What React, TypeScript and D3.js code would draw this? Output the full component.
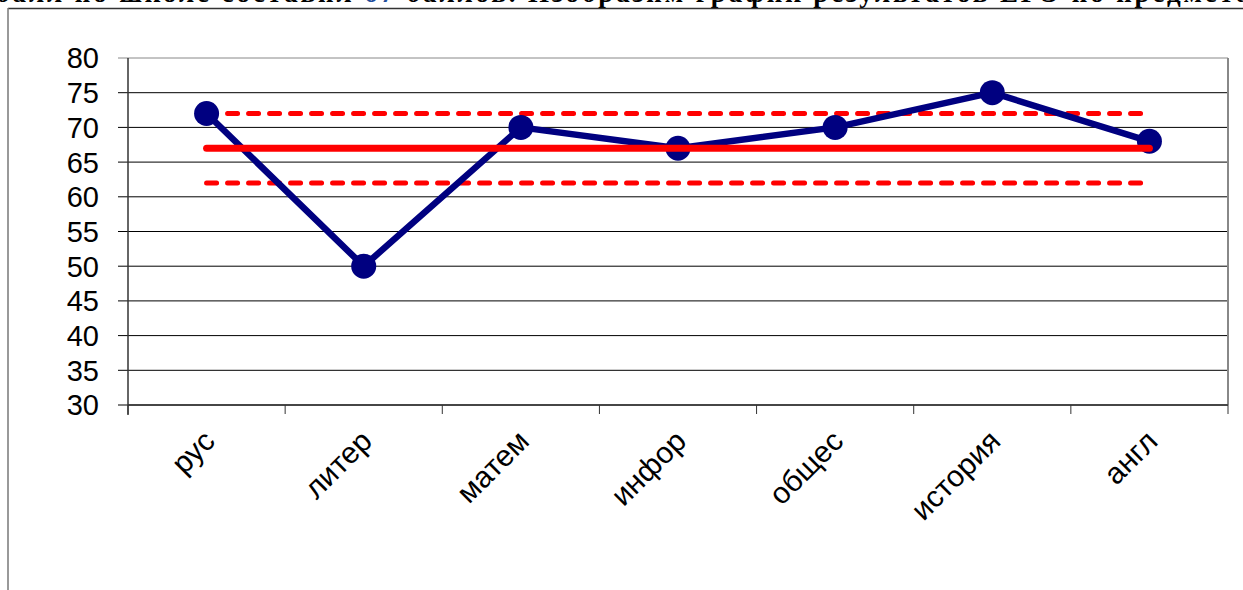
import * as d3 from 'd3'

const subjects = ['рус', 'литер', 'матем', 'инфор', 'общес', 'история', 'англ']
const scores = [72, 50, 70, 67, 70, 75, 68]
const schoolMean = 67
const bandUpper = 72
const bandLower = 62
const yTicks = [30, 35, 40, 45, 50, 55, 60, 65, 70, 75, 80]

export default function App() {
  const W = 1243
  const H = 590
  const plot = { left: 128, right: 1228, top: 58, bottom: 405 }

  const x = d3.scaleBand<string>().domain(subjects).range([plot.left, plot.right])
  const y = d3.scaleLinear().domain([30, 80]).range([plot.bottom, plot.top])
  const cx = (s: string) => (x(s) as number) + x.bandwidth() / 2

  const line = d3
    .line<number>()
    .x((_, i) => cx(subjects[i]))
    .y((d) => y(d))

  const first = cx(subjects[0])
  const last = cx(subjects[subjects.length - 1])

  return (
    <svg width={W} height={H} style={{ position: 'absolute', left: 0, top: 0, background: '#fff' }}>
      {/* heading cut off at top of the page */}
      <text x={-4} y={2} fontFamily="'Liberation Serif', serif" fontWeight="bold" fontSize={27} fill="#000" textLength={1275}>
        балл по школе составил <tspan fill="#1f4e9c">67</tspan> баллов. Изобразим график результатов ЕГЭ по предметам
      </text>

      {/* chart frame */}
      <line x1={8} x2={W} y1={8.5} y2={8.5} stroke="#333" strokeWidth={1.5} />
      <line x1={8} x2={8} y1={8} y2={H} stroke="#777" strokeWidth={1.5} />

      {/* gridlines */}
      {yTicks.map((t) => (
        <line key={t} x1={plot.left - 10} x2={plot.right} y1={y(t)} y2={y(t)} stroke={t === 80 ? '#888' : '#000'} strokeWidth={1} />
      ))}
      <line x1={plot.right} x2={plot.right} y1={plot.top} y2={plot.bottom} stroke="#888" strokeWidth={2} />
      <line x1={plot.left} x2={plot.left} y1={plot.top} y2={plot.bottom + 10} stroke="#333" strokeWidth={1.5} />
      <line x1={plot.left} x2={plot.right} y1={plot.bottom} y2={plot.bottom} stroke="#333" strokeWidth={1.5} />

      {/* x ticks */}
      {subjects.map((s) => (
        <line key={s} x1={x(s)} x2={x(s)} y1={plot.bottom} y2={plot.bottom + 9} stroke="#333" strokeWidth={1} />
      ))}
      <line x1={plot.right} x2={plot.right} y1={plot.bottom} y2={plot.bottom + 9} stroke="#333" strokeWidth={1} />

      {/* y labels */}
      {yTicks.map((t) => (
        <text key={t} x={99} y={y(t)} dy="0.36em" textAnchor="end" fontFamily="'Liberation Sans', Arial, sans-serif" fontSize={29} fill="#000">
          {t}
        </text>
      ))}

      {/* x labels */}
      {subjects.map((s) => (
        <text
          key={s}
          transform={`translate(${cx(s) + 10},${plot.bottom + 38}) rotate(-45)`}
          textAnchor="end"
          fontFamily="'Liberation Sans', Arial, sans-serif"
          fontSize={30}
          fill="#000"
        >
          {s}
        </text>
      ))}

      {/* mean and band */}
      <line x1={first} x2={last} y1={y(bandUpper)} y2={y(bandUpper)} stroke="#ff0000" strokeWidth={5} strokeDasharray="10 11" strokeLinecap="round" />
      <line x1={first} x2={last} y1={y(bandLower)} y2={y(bandLower)} stroke="#ff0000" strokeWidth={5} strokeDasharray="10 11" strokeLinecap="round" />

      {/* scores */}
      <path d={line(scores) as string} fill="none" stroke="#000080" strokeWidth={6.5} strokeLinejoin="round" />
      {scores.map((v, i) => (
        <circle key={i} cx={cx(subjects[i])} cy={y(v)} r={12.5} fill="#000080" />
      ))}

      <line x1={first} x2={last} y1={y(schoolMean)} y2={y(schoolMean)} stroke="#ff0000" strokeWidth={7} strokeLinecap="round" />
    </svg>
  )
}
